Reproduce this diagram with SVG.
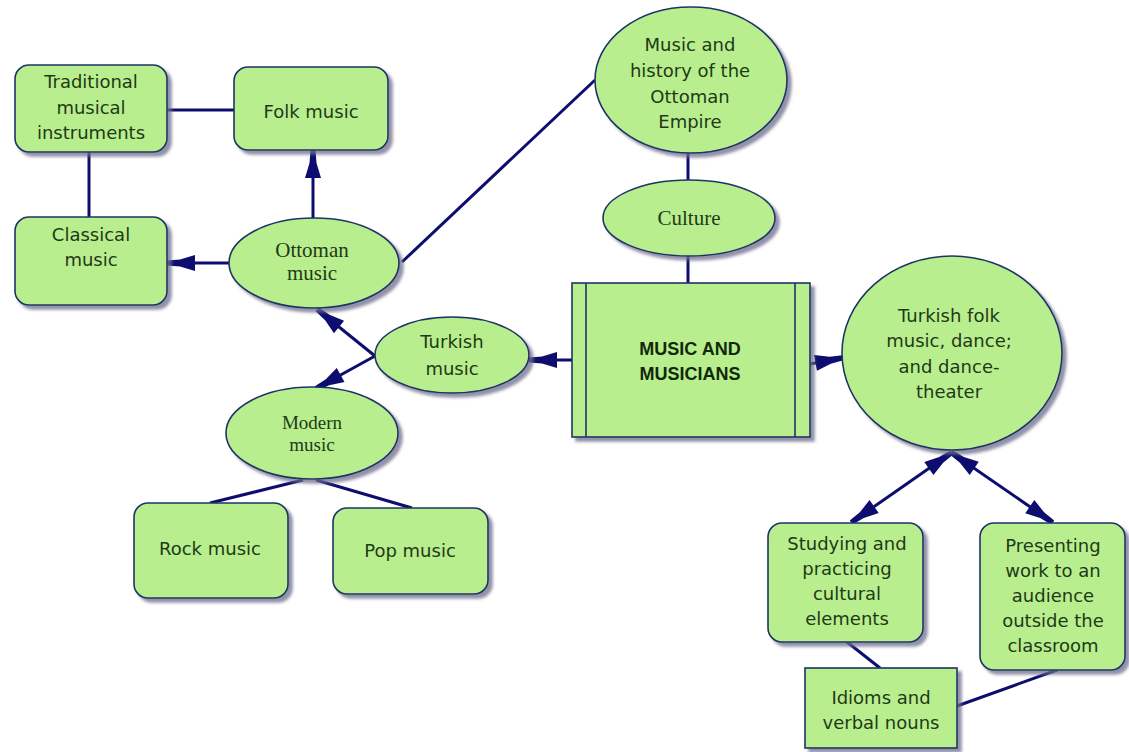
<svg xmlns="http://www.w3.org/2000/svg" width="1129" height="752" viewBox="0 0 1129 752">
<style>
.n{fill:#b9ee8e;stroke:#1d3466;stroke-width:1.6;filter:url(#sh)}
.t{font-family:"DejaVu Sans",Verdana,sans-serif;font-size:18px;fill:#1e3a16;text-anchor:middle}
.s{font-family:"Liberation Serif","Times New Roman",serif;font-size:21px;fill:#1e3a16;text-anchor:middle}
.m{font-family:"Liberation Serif","Times New Roman",serif;font-size:19px;fill:#1e3a16;text-anchor:middle}
.b{font-family:"Liberation Sans",Arial,sans-serif;font-size:18px;font-weight:bold;fill:#0f2a0a;text-anchor:middle}
.c{stroke:#0d0d70;stroke-width:3;fill:none}
.a{marker-end:url(#ah)}
.d{marker-end:url(#ah);marker-start:url(#ah)}
</style>
<defs>
<filter id="sh" x="-10%" y="-10%" width="125%" height="125%">
<feDropShadow dx="4" dy="4" stdDeviation="1.5" flood-color="#6d6d8c" flood-opacity="0.75"/>
</filter>
<marker id="ah" markerUnits="userSpaceOnUse" viewBox="-28 -9 30 18" refX="0" refY="0" markerWidth="30" markerHeight="18" orient="auto-start-reverse">
<path d="M1,-2.5 L-12,-3.5 L-27,-8 L-27,8 L-12,3.5 L1,2.5 Z" fill="#0d0d70"/>
</marker>
</defs>
<rect width="1129" height="752" fill="#ffffff"/>
<g id="connectors">
<line class="c" x1="167" y1="110" x2="234" y2="110"/>
<line class="c" x1="89" y1="152" x2="89" y2="217"/>
<line class="c a" x1="313" y1="218" x2="313" y2="151"/>
<line class="c a" x1="229" y1="263" x2="168" y2="263"/>
<line class="c" x1="402" y1="262" x2="595" y2="80"/>
<line class="c" x1="688" y1="153" x2="688" y2="180"/>
<line class="c" x1="688" y1="256" x2="688" y2="283"/>
<line class="c a" x1="572" y1="360" x2="530" y2="360"/>
<line class="c a" x1="375" y1="356" x2="318" y2="310"/>
<line class="c a" x1="375" y1="356" x2="317" y2="388"/>
<line class="c" x1="303" y1="480" x2="210" y2="503"/>
<line class="c" x1="316" y1="480" x2="412" y2="508"/>
<line class="c a" x1="810" y1="364" x2="842" y2="358"/>
<line class="c d" x1="951" y1="453" x2="852" y2="522"/>
<line class="c d" x1="952" y1="453" x2="1052" y2="522"/>
<line class="c" x1="847" y1="642" x2="880" y2="668"/>
<line class="c" x1="957" y1="706" x2="1057" y2="670"/>
</g>
<g id="traditional">
<rect class="n" x="15" y="65" width="152" height="87" rx="14"/>
<text class="t" x="91" y="88">Traditional</text>
<text class="t" x="91" y="114">musical</text>
<text class="t" x="91" y="139">instruments</text>
</g>
<g id="folk">
<rect class="n" x="234" y="67" width="154" height="83" rx="14"/>
<text class="t" x="311" y="118">Folk music</text>
</g>
<g id="classical">
<rect class="n" x="15" y="217" width="152" height="88" rx="14"/>
<text class="t" x="91" y="241">Classical</text>
<text class="t" x="91" y="266">music</text>
</g>
<g id="ottoman">
<ellipse class="n" cx="314" cy="263" rx="85" ry="45"/>
<text class="s" x="312" y="257">Ottoman</text>
<text class="s" x="312" y="280">music</text>
</g>
<g id="history">
<ellipse class="n" cx="691" cy="80" rx="96" ry="73"/>
<text class="t" x="690" y="51">Music and</text>
<text class="t" x="690" y="77">history of the</text>
<text class="t" x="690" y="103">Ottoman</text>
<text class="t" x="690" y="128">Empire</text>
</g>
<g id="culture">
<ellipse class="n" cx="689" cy="218" rx="86" ry="38"/>
<text class="s" x="689" y="225">Culture</text>
</g>
<g id="music-musicians">
<rect class="n" x="572" y="283" width="238" height="154"/>
<line x1="586" y1="283" x2="586" y2="437" stroke="#1d3466" stroke-width="1.6"/>
<line x1="795" y1="283" x2="795" y2="437" stroke="#1d3466" stroke-width="1.6"/>
<text class="b" x="690" y="355">MUSIC AND</text>
<text class="b" x="690" y="380">MUSICIANS</text>
</g>
<g id="turkish-music">
<ellipse class="n" cx="452" cy="355" rx="77" ry="38"/>
<text class="t" x="452" y="348">Turkish</text>
<text class="t" x="452" y="375">music</text>
</g>
<g id="modern">
<ellipse class="n" cx="312" cy="433" rx="86" ry="46"/>
<text class="m" x="312" y="429">Modern</text>
<text class="m" x="312" y="451">music</text>
</g>
<g id="rock">
<rect class="n" x="134" y="503" width="154" height="95" rx="14"/>
<text class="t" x="210" y="555">Rock music</text>
</g>
<g id="pop">
<rect class="n" x="333" y="508" width="155" height="86" rx="14"/>
<text class="t" x="410" y="557">Pop music</text>
</g>
<g id="turkish-folk">
<ellipse class="n" cx="952" cy="353" rx="110" ry="97"/>
<text class="t" x="949" y="322">Turkish folk</text>
<text class="t" x="949" y="347">music, dance;</text>
<text class="t" x="949" y="373">and dance-</text>
<text class="t" x="949" y="398">theater</text>
</g>
<g id="studying">
<rect class="n" x="768" y="523" width="155" height="119" rx="14"/>
<text class="t" x="847" y="550">Studying and</text>
<text class="t" x="847" y="575">practicing</text>
<text class="t" x="847" y="600">cultural</text>
<text class="t" x="847" y="625">elements</text>
</g>
<g id="presenting">
<rect class="n" x="980" y="523" width="145" height="147" rx="14"/>
<text class="t" x="1053" y="552">Presenting</text>
<text class="t" x="1053" y="577">work to an</text>
<text class="t" x="1053" y="602">audience</text>
<text class="t" x="1053" y="627">outside the</text>
<text class="t" x="1053" y="652">classroom</text>
</g>
<g id="idioms">
<rect class="n" x="805" y="668" width="152" height="80"/>
<text class="t" x="881" y="704">Idioms and</text>
<text class="t" x="881" y="729">verbal nouns</text>
</g>
</svg>
